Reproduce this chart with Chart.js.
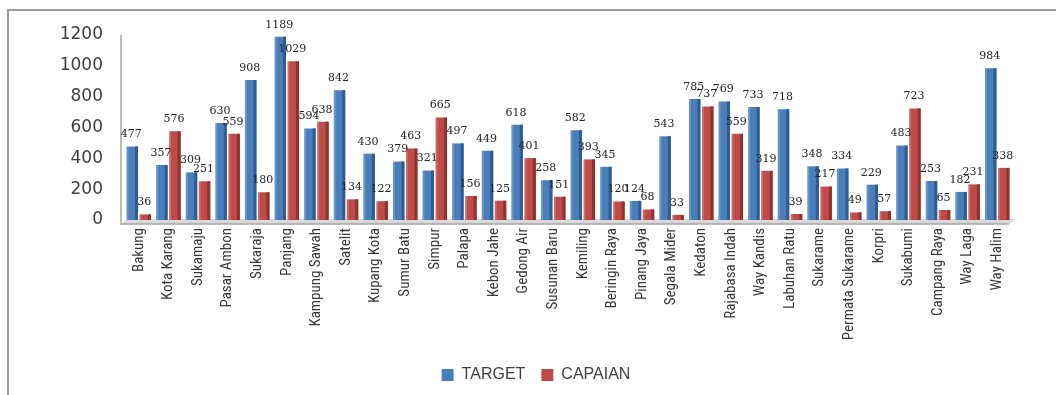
<!DOCTYPE html>
<html>
<head>
<meta charset="utf-8">
<script src="https://cdn.jsdelivr.net/npm/chart.js@4/dist/chart.umd.min.js"></script>
<style>
html,body{margin:0;padding:0;background:#fff;}
#wrap{position:relative;width:1056px;height:395px;overflow:hidden;}
#frame{position:absolute;left:7px;top:9px;width:1200px;height:500px;border-top:2px solid #9a9a9a;border-left:2px solid #9a9a9a;}
canvas{position:absolute;left:0;top:0;}
</style>
</head>
<body>
<div id="wrap">
<div id="frame"></div>
<canvas id="c" width="1056" height="395"></canvas>
</div>
<script>
const categories = ["Bakung","Kota Karang","Sukamaju","Pasar Ambon","Sukaraja","Panjang","Kampung Sawah","Satelit","Kupang Kota","Sumur Batu","Simpur","Palapa","Kebon Jahe","Gedong Air","Susunan Baru","Kemiling","Beringin Raya","Pinang Jaya","Segala Mider","Kedaton","Rajabasa Indah","Way Kandis","Labuhan Ratu","Sukarame","Permata Sukarame","Korpri","Sukabumi","Campang Raya","Way Laga","Way Halim"];
const target = [477,357,309,630,908,1189,594,842,430,379,321,497,449,618,258,582,345,124,543,785,769,733,718,348,334,229,483,253,182,984];
const capaian = [36,576,251,559,180,1029,638,134,122,463,665,156,125,401,151,393,120,68,33,737,559,319,39,217,49,57,723,65,231,338];
const yTicks = [0,200,400,600,800,1000,1200];

const sideShade = {
  id:'sideShade',
  afterDatasetsDraw(chart){
    const ctx = chart.ctx;
    const darks = ['#2f5d8f','#8e3330'];
    chart.data.datasets.forEach((ds,i)=>{
      const meta = chart.getDatasetMeta(i);
      meta.data.forEach(bar=>{
        const w = bar.width;
        const right = bar.x + w/2;
        ctx.save();
        ctx.fillStyle = darks[i];
        ctx.fillRect(right-3, bar.y, 3, bar.base-bar.y);
        ctx.fillStyle = 'rgba(255,255,255,0.18)';
        ctx.fillRect(bar.x - w/2, bar.y, 2, bar.base-bar.y);
        ctx.restore();
      });
    });
  }
};

const valueLabels = {
  id:'valueLabels',
  afterDatasetsDraw(chart){
    const ctx = chart.ctx;
    ctx.save();
    ctx.font = '11px "DejaVu Serif", serif';
    ctx.fillStyle = '#262626';
    ctx.textAlign = 'center';
    ctx.textBaseline = 'middle';
    chart.data.datasets.forEach((ds,i)=>{
      const meta = chart.getDatasetMeta(i);
      meta.data.forEach((bar,j)=>{
        ctx.fillText(String(ds.data[j]), bar.x - 1, bar.y - 12);
      });
    });
    ctx.restore();
  }
};

const floor = {
  id:'floor',
  beforeDatasetsDraw(chart){
    const ctx = chart.ctx, a = chart.chartArea;
    ctx.save();
    ctx.fillStyle = '#d9d9d9';
    ctx.beginPath();
    ctx.moveTo(a.left-3, a.bottom+4);
    ctx.lineTo(a.right-3, a.bottom+4);
    ctx.lineTo(a.right+4, a.bottom-1);
    ctx.lineTo(a.left+4, a.bottom-1);
    ctx.closePath();
    ctx.fill();
    ctx.strokeStyle = '#a6a6a6';
    ctx.lineWidth = 1.5;
    ctx.beginPath();
    ctx.moveTo(a.left-3, a.top);
    ctx.lineTo(a.left-3, a.bottom+4);
    ctx.lineTo(a.right-3, a.bottom+4);
    ctx.stroke();
    ctx.restore();
  }
};

const legendShift = {
  id:'legendShift',
  afterLayout(chart){
    if (chart.legend){ chart.legend.left += 30; chart.legend.right += 30; }
  }
};

new Chart(document.getElementById('c'), {
  type:'bar',
  data:{
    labels: categories,
    datasets:[
      {label:'TARGET', data: target, backgroundColor:'#4a7ebb', borderWidth:0},
      {label:'CAPAIAN', data: capaian, backgroundColor:'#be4b48', borderWidth:0}
    ]
  },
  options:{
    responsive:false,
    animation:false,
    devicePixelRatio:1,
    layout:{padding:{left:0,right:44,top:35,bottom:2}},
    datasets:{bar:{barPercentage:0.88,categoryPercentage:0.88}},
    plugins:{
      legend:{
        position:'bottom',
        labels:{
          font:{family:'"Liberation Sans", Arial, sans-serif', size:16},
          color:'#404040',
          boxWidth:12, boxHeight:12,
          padding:16
        }
      },
      tooltip:{enabled:false}
    },
    scales:{
      x:{
        grid:{display:false, drawTicks:false},
        border:{display:false},
        ticks:{
          maxRotation:90, minRotation:90, autoSkip:false, padding:8,
          color:'#3a3a3a',
          font:{family:'"Liberation Sans Narrow", "Roboto Condensed", Arial, sans-serif', size:15}
        },
        afterFit(s){ s.height = 131; }
      },
      y:{
        min:0, max:1200,
        grid:{display:false, drawTicks:false},
        border:{display:false},
        afterBuildTicks(s){ s.ticks = yTicks.map(v=>({value:v})); },
        ticks:{
          padding:21,
          color:'#404040',
          font:{family:'"DejaVu Sans", sans-serif', size:17},
          callback:(v)=>String(v)
        },
        afterFit(s){ s.width = 124; }
      }
    }
  },
  plugins:[floor, sideShade, valueLabels, legendShift]
});
</script>
</body>
</html>
